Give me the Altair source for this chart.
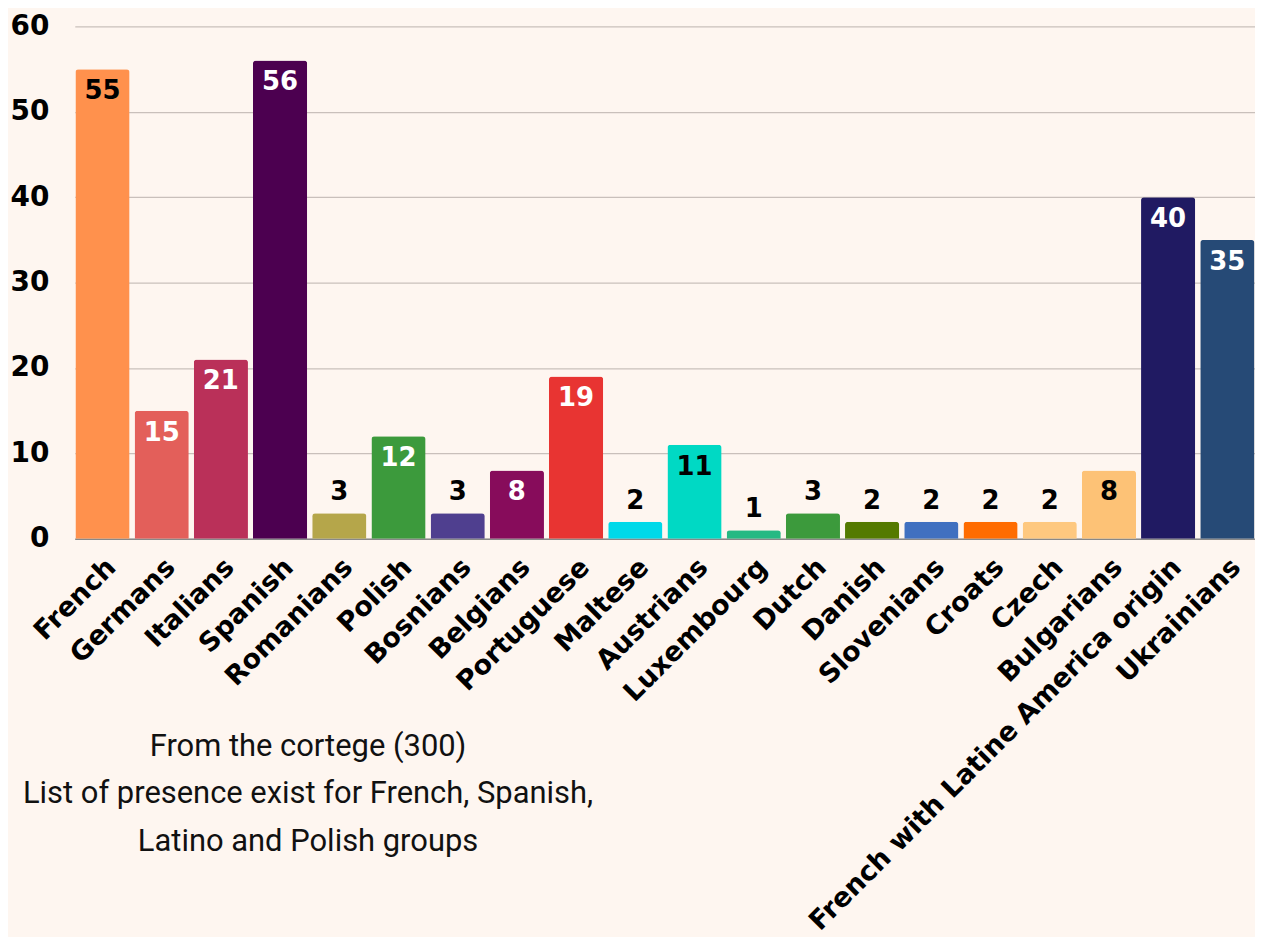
import altair as alt
import pandas as pd

names = ["French", "Germans", "Italians", "Spanish", "Romanians", "Polish", "Bosnians",
         "Belgians", "Portuguese", "Maltese", "Austrians", "Luxembourg", "Dutch", "Danish",
         "Slovenians", "Croats", "Czech", "Bulgarians", "French with Latine America origin",
         "Ukrainians"]
values = [55, 15, 21, 56, 3, 12, 3, 8, 19, 2, 11, 1, 3, 2, 2, 2, 2, 8, 40, 35]
colors = ["#FF914D", "#E35F5A", "#BA3059", "#4C0050", "#B5A64A", "#3C9A3C", "#4F3F8F",
          "#870C5B", "#E83432", "#00D9E9", "#00D9C4", "#26B983", "#3C9A3C", "#547A00",
          "#4070C0", "#FF6C00", "#FEC87F", "#FDC276", "#201A62", "#264A76"]
label_colors = ["#000000", "#FFFFFF", "#FFFFFF", "#FFFFFF", "#000000", "#FFFFFF", "#000000",
                "#FFFFFF", "#FFFFFF", "#000000", "#000000", "#000000", "#000000", "#000000",
                "#000000", "#000000", "#000000", "#000000", "#FFFFFF", "#FFFFFF"]
inside = [True, True, True, True, False, True, False, True, True, False, True, False,
          False, False, False, False, False, True, True, True]
caption = ["From the cortege (300)",
           "List of presence exist for French, Spanish,",
           "Latino and Polish groups"]

df = pd.DataFrame({"name": names, "value": values, "color": colors,
                   "lcolor": label_colors, "inside": inside})

FONT = "DejaVu Sans"
BG = "#FEF6F0"

x = alt.X("name:N", sort=names, title=None,
          scale=alt.Scale(paddingInner=0.085, paddingOuter=0.01),
          axis=alt.Axis(labelAngle=-45, labelFontSize=27, labelFont=FONT,
                        labelFontWeight="bold", labelColor="#000000", ticks=False,
                        labelPadding=15, domainColor="#888888", domainWidth=1.5,
                        labelLimit=1000, labelOverlap=False))
y = alt.Y("value:Q", title=None,
          scale=alt.Scale(domain=[0, 60]),
          axis=alt.Axis(values=[0, 10, 20, 30, 40, 50, 60], labelFontSize=28,
                        labelFont=FONT, labelFontWeight="bold", labelColor="#000000",
                        ticks=False, domain=False, gridColor="#C9C0BB",
                        gridWidth=1.2, labelPadding=26))

bars = alt.Chart(df).mark_bar(cornerRadiusTopLeft=3, cornerRadiusTopRight=3).encode(
    x=x, y=y, color=alt.Color("color:N", scale=None))

txt_in = alt.Chart(df).transform_filter("datum.inside").mark_text(
    baseline="middle", dy=22, fontSize=26, font=FONT, fontWeight="bold").encode(
    x=alt.X("name:N", sort=names), y="value:Q", text="value:Q",
    color=alt.Color("lcolor:N", scale=None))

txt_out = alt.Chart(df).transform_filter("!datum.inside").mark_text(
    baseline="middle", dy=-21, fontSize=26, font=FONT, fontWeight="bold").encode(
    x=alt.X("name:N", sort=names), y="value:Q", text="value:Q",
    color=alt.Color("lcolor:N", scale=None))

cap_df = pd.DataFrame({"line": caption, "i": [0, 1, 2]})
cap = alt.Chart(cap_df).transform_calculate(
    py="514 + 209 + datum.i * 47.5"
).mark_text(font="Roboto", fontSize=31, color="#111111",
            align="center", baseline="middle").encode(
    text="line:N",
    x=alt.value(234),
    y=alt.Y("py:Q", scale=None),
)

chart = alt.layer(bars, txt_in, txt_out, cap).properties(
    width=1184, height=514, background=BG,
    padding={"left": 2, "top": 3, "right": 0, "bottom": 0}
).configure_view(stroke=None)

chart.save("out.html", embed_options={"renderer": "svg", "actions": False})
